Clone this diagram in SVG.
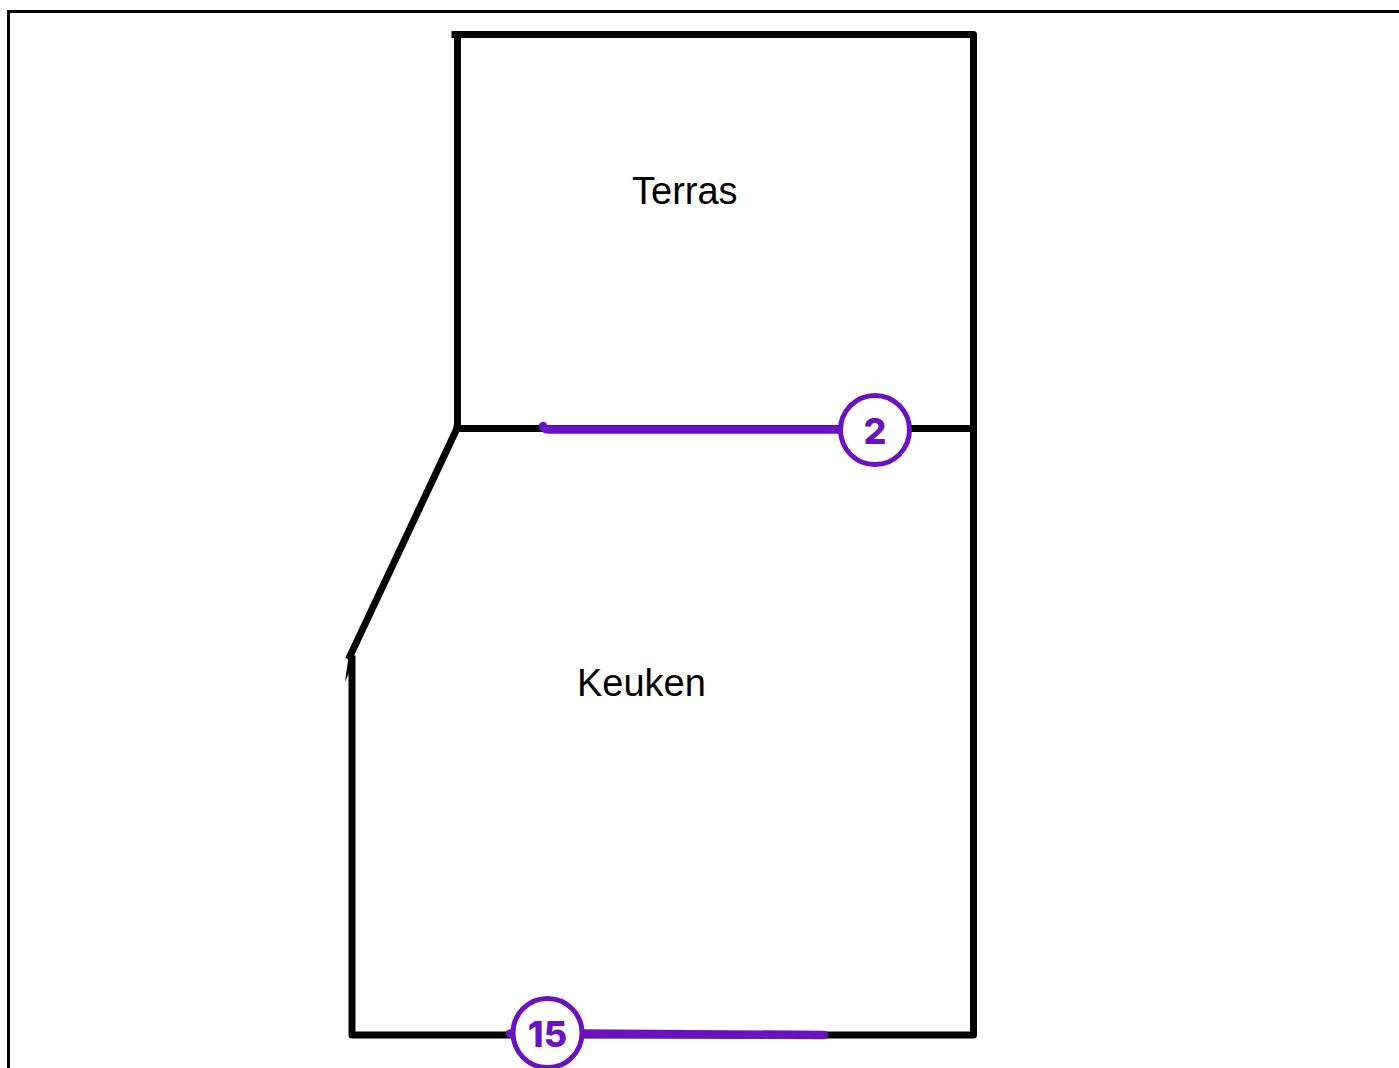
<svg xmlns="http://www.w3.org/2000/svg" width="1399" height="1068" viewBox="0 0 1399 1068">
<style>
.frame{fill:none;stroke:#000;stroke-width:3}
.wall{fill:none;stroke:#000;stroke-width:7;stroke-linecap:square;stroke-linejoin:round}
.room{font-family:"Liberation Sans",Arial,sans-serif;font-size:38px;fill:#000}
.dim{fill:none;stroke:#6a12bf;stroke-width:8.500;stroke-linecap:round}
.badge{fill:#fff;stroke:#6a12bf;stroke-width:5}
.num{font-family:"Inter","Noto Sans",sans-serif;font-weight:800;font-size:36px;fill:#6a12bf;text-anchor:middle}
</style>
<rect width="1399" height="1068" fill="#fff"/>
<path class="frame" d="M8.500 1068V11.500H1399"/>
<g id="walls">
<path class="wall" d="M455 34.500H973.500V1035H352V659"/>
<path class="wall" d="M457.500 35V428.500"/>
<path class="wall" d="M457 428.500H973"/>
<path class="wall" d="M457 428.500L350 656"/>
<path d="M349 654L345 682L352 666Z" fill="#000"/>
</g>
<g id="terras"><text class="room" x="632" y="204">Terras</text></g>
<g id="keuken"><text class="room" x="577" y="696">Keuken</text></g>
<g id="connectors">
<path class="dim" d="M543 426Q544 429.500 549 429.500H840"/>
<path class="dim" d="M510 1033.500H530"/>
<path class="dim" d="M580 1033.500L824 1035"/>
</g>
<g id="badge-2">
<circle class="badge" cx="875" cy="430" r="34.500"/>
<text class="num" x="875" y="444">2</text>
</g>
<g id="badge-15">
<circle class="badge" cx="547.500" cy="1033" r="34.500"/>
<text class="num" x="547.500" y="1047">15</text>
</g>
</svg>
